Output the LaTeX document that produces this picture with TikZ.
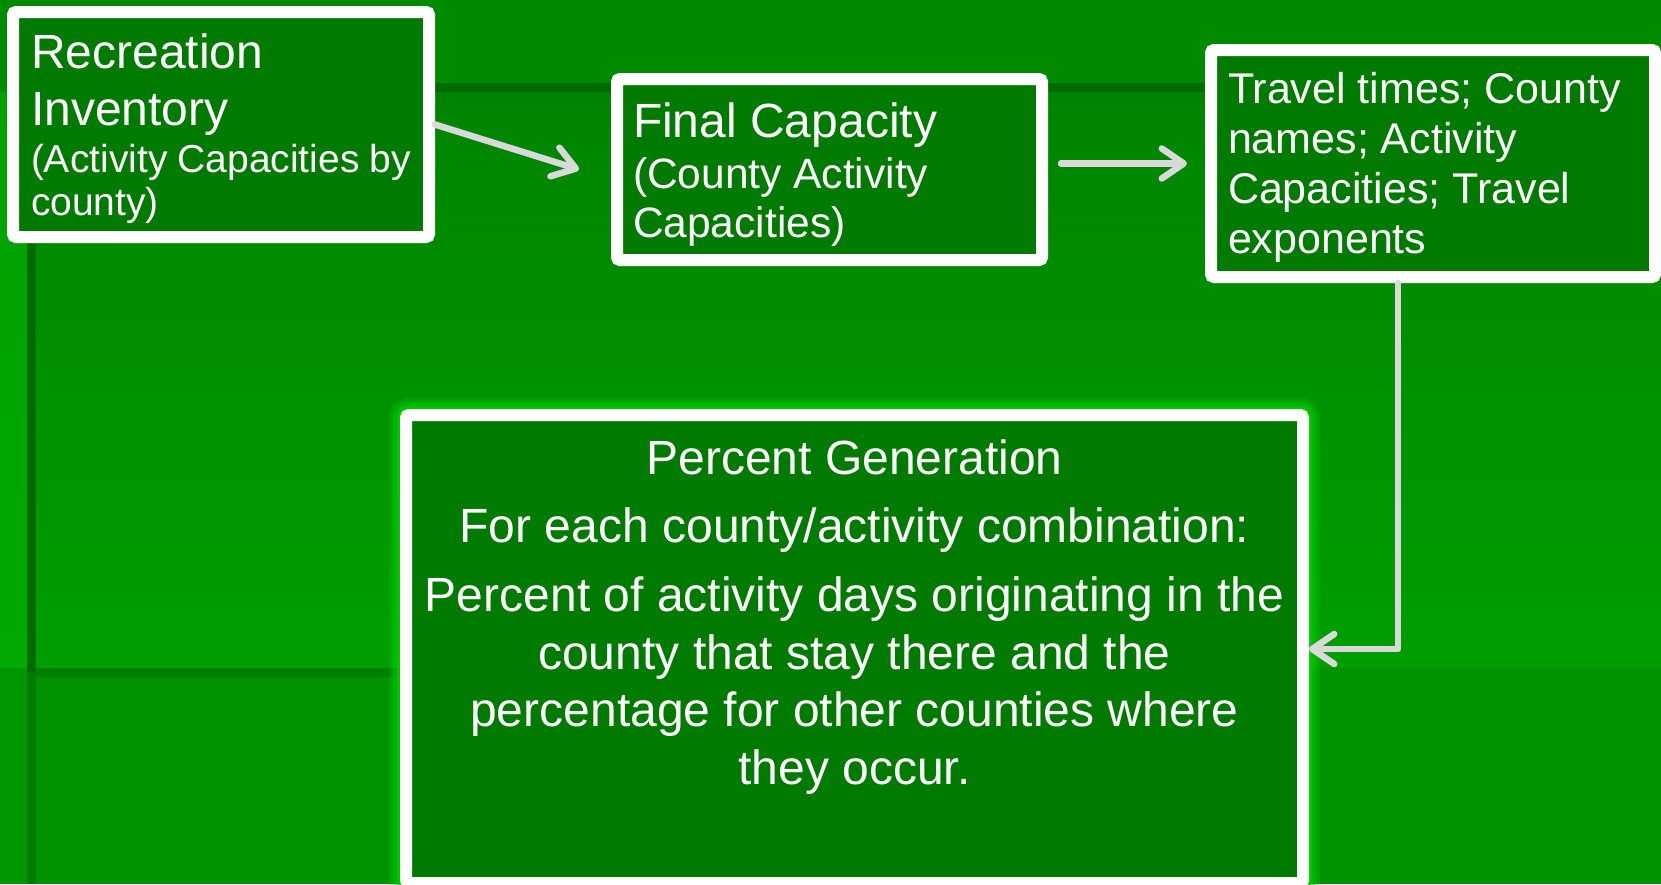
\documentclass[tikz,border=0pt]{standalone}
\usepackage{fontspec}
\setmainfont{Liberation Sans}
\usepackage{tikz}
\usetikzlibrary{arrows.meta, positioning, shapes}

\definecolor{slidegreen}{RGB}{0,138,0}
\definecolor{panelhi}{RGB}{0,132,0}
\definecolor{panello}{RGB}{0,158,0}
\definecolor{panelfoot}{RGB}{0,146,0}
\definecolor{stripgreen}{RGB}{0,170,0}
\definecolor{seamgreen}{RGB}{0,108,0}
\definecolor{boxgreen}{RGB}{0,123,0}
\definecolor{glowgreen}{RGB}{0,208,0}
\definecolor{arrowgray}{RGB}{217,217,217}

\tikzstyle{block} = [rectangle, draw=white, line width=12pt, rounded corners=3pt, fill=boxgreen, text=white, align=flush left, inner xsep=17pt, inner ysep=0pt]
\tikzstyle{glowblock} = [block, align=flush center, preaction={draw=glowgreen, line width=34pt, opacity=0.25}, preaction={draw=glowgreen, line width=26pt, opacity=0.4}, preaction={draw=glowgreen, line width=18pt, opacity=0.6}]
\tikzstyle{line} = [draw=arrowgray, line width=6.5pt, line cap=round, line join=round, -{Straight Barb[length=22pt, width=30pt, round]}]

\begin{document}
\begin{tikzpicture}[x=1pt, y=-1pt]
\useasboundingbox (0,0) rectangle (1661,884);

% slide background
\fill[slidegreen] (0,0) rectangle (1661,884);
\shade[top color=panelhi, bottom color=panello] (36,92) rectangle (1661,668);
\fill[panelfoot] (36,668) rectangle (1661,884);
\shade[top color=stripgreen!75!slidegreen, bottom color=stripgreen] (0,92) rectangle (27,668);
\fill[stripgreen!88!black] (0,668) rectangle (27,884);
\fill[seamgreen] (27,83) rectangle (1661,92);
\fill[seamgreen] (27,83) rectangle (36,672);
\fill[seamgreen!55!panelfoot] (27,672) rectangle (36,884);
\fill[seamgreen, opacity=0.5] (36,668) rectangle (400,677);

\node (inv) [block, text width=380pt, text height=56pt, text depth=169pt, inner xsep=18pt,
      font=\fontsize{48}{57}\selectfont] at (221,124.5)
      {Recreation\\Inventory\\[-10pt]{\fontsize{39}{57}\selectfont (Activity Capacities by\\[-14pt]county)}};
\node (cap) [block, text width=393pt, text height=58pt, text depth=123pt, inner xsep=16pt,
      font=\fontsize{48}{57}\selectfont] at (829.5,169.5)
      {Final Capacity\\[-6pt]{\fontsize{42.5}{57}\selectfont (County Activity\\[-8pt]Capacities)}};
\node (trav) [block, text width=410pt, text height=53pt, text depth=174pt,
      font=\fontsize{43}{50}\selectfont] at (1433,163.5)
      {Travel times; County\\names; Activity\\Capacities; Travel\\exponents};
\node (gen) [glowblock, text width=877pt, text height=59pt, text depth=409pt, inner xsep=10pt,
      font=\fontsize{48}{57.5}\selectfont] at (854.5,649)
      {Percent Generation\\[10.5pt]For each county/activity combination:\\[12pt]Percent of activity days originating in the\\county that stay there and the\\percentage for other counties where\\they occur.};

% Draw edges
\path [line] (inv.east) -- ([xshift=-32pt]cap.west);
\path [line, shorten <=13pt, shorten >=18pt] (cap.east |- trav.west) -- (trav.west);
\path [line] ([xshift=-35pt]trav.south) |- (gen.east);

\end{tikzpicture}
\end{document}
